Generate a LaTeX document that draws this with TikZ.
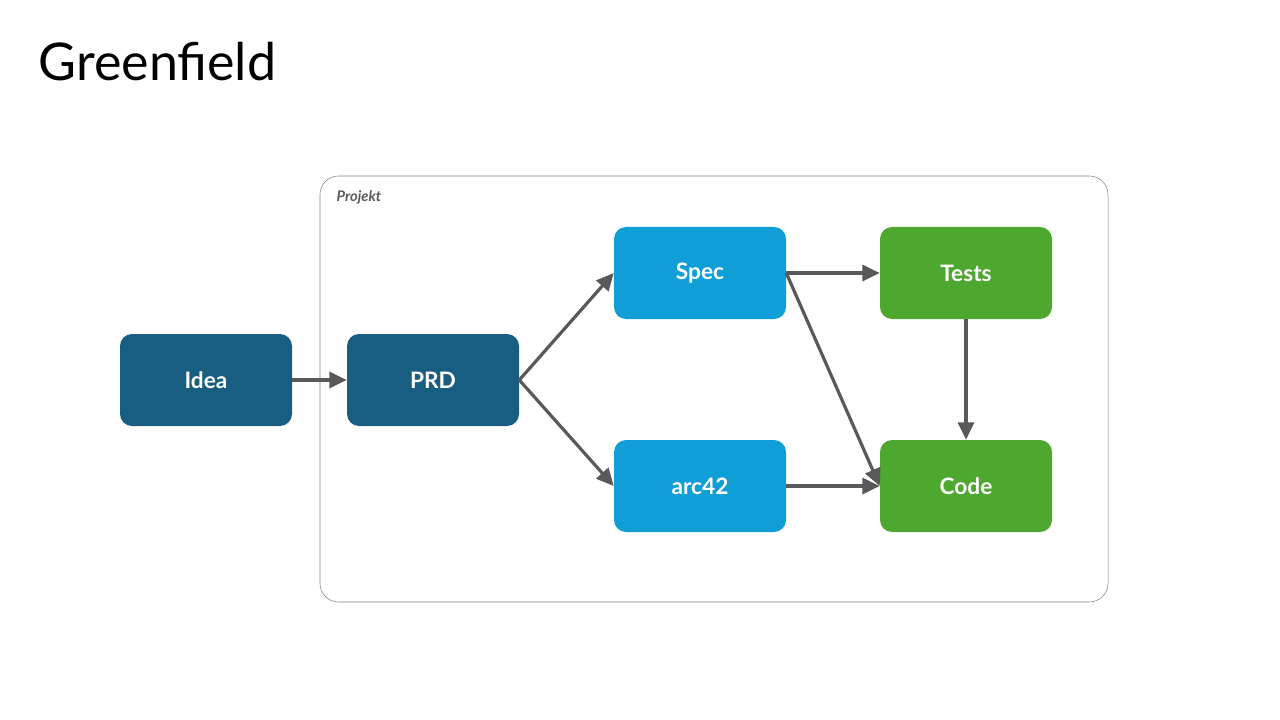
\documentclass[tikz,border=0pt]{standalone}
\usepackage{fontspec}
\setmainfont{Lato}
\usetikzlibrary{arrows.meta}
\definecolor{darkblue}{HTML}{185E80}
\definecolor{lightblue}{HTML}{109ED6}
\definecolor{leafgreen}{HTML}{4EA72E}
\definecolor{arrowgray}{HTML}{595959}
\begin{document}
\begin{tikzpicture}[x=0.75pt,y=0.75pt,yscale=-1,xscale=1,
  stage/.style={rounded corners=9pt,minimum width=129pt,minimum height=69pt,text=white,font=\fontsize{17}{20}\selectfont\bfseries},
  flow/.style={draw=arrowgray,line width=2.4pt,-{Triangle[length=13pt,width=12pt]}}]
\useasboundingbox (0,0) rectangle (1280,720);

% Title
\node[anchor=west,font=\fontsize{39}{44}\selectfont] (title) at (34,62) {Greenfield};

% Project frame
\draw[draw=gray,rounded corners=14pt] (320,176) rectangle (1108,602);
\node[anchor=west,text=arrowgray,font=\fontsize{11}{13}\selectfont\bfseries\itshape] (projekt) at (332,197) {Projekt};

% Stages
\node[stage,fill=darkblue] (idea) at (206,380) {Idea};
\node[stage,fill=darkblue] (prd) at (433,380) {PRD};
\node[stage,fill=lightblue] (spec) at (700,273) {Spec};
\node[stage,fill=lightblue] (arc) at (700,486) {arc42};
\node[stage,fill=leafgreen] (tests) at (966,273) {Tests};
\node[stage,fill=leafgreen] (code) at (966,486) {Code};

% Connectors
\draw[flow] (idea.east) -- (prd.west);
\draw[flow] (prd.east) -- (spec.west);
\draw[flow] (prd.east) -- (arc.west);
\draw[flow] (spec.east) -- (tests.west);
\draw[flow] (spec.east) -- (code.west);
\draw[flow] (arc.east) -- (code.west);
\draw[flow] (tests.south) -- (code.north);
\end{tikzpicture}
\end{document}
